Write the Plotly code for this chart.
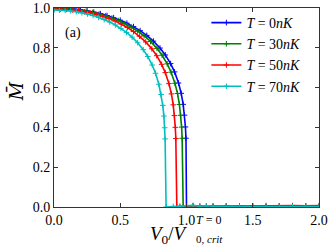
import plotly.graph_objects as go

# ---- data ----
labels = ["0", "30", "50", "70"]
colors = ["#0000ff", "#008000", "#ff0000", "#00bfbf"]

v_T0 = [0, 0.05, 0.1, 0.15, 0.2, 0.25, 0.3, 0.35, 0.4, 0.45, 0.5, 0.55, 0.6, 0.65, 0.7,
        0.75, 0.8, 0.84, 0.88, 0.91, 0.94, 0.96, 0.975, 0.985, 0.992, 0.996,
        1.0, 1.05, 1.1, 1.15, 1.2, 1.3, 1.4, 1.5, 1.6, 1.7, 1.8, 1.9, 2.0]
m_T0 = [1.0, 0.9994, 0.9978, 0.995, 0.9911, 0.9859, 0.9795, 0.9717, 0.9624, 0.9514, 0.9387,
        0.9238, 0.9065, 0.8862, 0.8623, 0.8337, 0.7987, 0.7641, 0.7206, 0.6788, 0.623,
        0.5712, 0.5159, 0.4616, 0.4023, 0.3456,
        0, 0.004, 0.002, 0.005, 0.002, 0.002, 0.003, 0.002, 0.002, 0.002, 0.002, 0.003, 0.002]

v_T30 = [0, 0.0486, 0.0971, 0.1457, 0.1942, 0.2428, 0.2913, 0.3399, 0.3884, 0.437, 0.4855,
         0.5341, 0.5826, 0.6312, 0.6797, 0.7283, 0.7768, 0.8156, 0.8545, 0.8836, 0.9127,
         0.9322, 0.9467, 0.9564, 0.9632, 0.9671,
         0.975, 1.0, 1.05, 1.1, 1.2, 1.3, 1.4, 1.5, 1.6, 1.7, 1.8, 1.9, 2.0]
m_T30 = [0.998, 0.9974, 0.9958, 0.993, 0.9891, 0.9839, 0.9775, 0.9698, 0.9605, 0.9495, 0.9368,
         0.922, 0.9047, 0.8844, 0.8606, 0.832, 0.7971, 0.7626, 0.7192, 0.6774, 0.6218,
         0.5701, 0.5149, 0.4607, 0.4015, 0.3449,
         0, 0.003, 0.005, 0.003, 0.004, 0.006, 0.004, 0.002, 0.002, 0.003, 0.002, 0.002, 0.002]

v_T50 = [0, 0.0462, 0.0923, 0.1385, 0.1846, 0.2308, 0.2769, 0.3231, 0.3692, 0.4154, 0.4615,
         0.5077, 0.5538, 0.6, 0.6461, 0.6923, 0.7384, 0.7753, 0.8122, 0.8399, 0.8676,
         0.8861, 0.8999, 0.9092, 0.9156, 0.9193,
         0.927, 0.95, 1.0, 1.05, 1.1, 1.15, 1.2, 1.3, 1.4, 1.5, 1.6, 1.7, 1.8, 1.9, 2.0]
m_T50 = [0.995, 0.9944, 0.9928, 0.99, 0.9861, 0.981, 0.9746, 0.9668, 0.9576, 0.9466, 0.934,
         0.9192, 0.902, 0.8818, 0.858, 0.8295, 0.7947, 0.7603, 0.717, 0.6754, 0.6199,
         0.5683, 0.5133, 0.4593, 0.4003, 0.3439,
         0, 0.002, 0.003, 0.006, 0.002, 0.004, 0.003, 0.003, 0.004, 0.006, 0.007, 0.006, 0.007, 0.006, 0.007]

v_T70 = [0, 0.0421, 0.0842, 0.1263, 0.1684, 0.2105, 0.2526, 0.2947, 0.3368, 0.3789, 0.421,
         0.4631, 0.5052, 0.5473, 0.5894, 0.6315, 0.6736, 0.7073, 0.741, 0.7662, 0.7915,
         0.8083, 0.821, 0.8294, 0.8353, 0.8386,
         0.846, 0.9, 0.95, 1.0, 1.05, 1.1, 1.15, 1.2, 1.3, 1.4, 1.5, 1.6, 1.7, 1.8, 1.9, 2.0]
m_T70 = [0.99, 0.9894, 0.9878, 0.9851, 0.9812, 0.976, 0.9697, 0.962, 0.9528, 0.9419, 0.9293,
         0.9146, 0.8974, 0.8773, 0.8537, 0.8254, 0.7907, 0.7565, 0.7134, 0.672, 0.6168,
         0.5655, 0.5107, 0.457, 0.3983, 0.3421,
         0, 0.003, 0.004, 0.006, 0.008, 0.004, 0.006, 0.004, 0.003, 0.002, 0.002, 0.002, 0.002, 0.002, 0.002, 0.002]

series_v = [v_T0, v_T30, v_T50, v_T70]
series_m = [m_T0, m_T30, m_T50, m_T70]

x_ticks = [0.0, 0.5, 1.0, 1.5, 2.0]
y_ticks = [0.0, 0.2, 0.4, 0.6, 0.8, 1.0]

SERIF = "Liberation Serif, DejaVu Serif, serif"

fig = go.Figure()
for lab, col, xs, ys in zip(labels, colors, series_v, series_m):
    fig.add_trace(go.Scatter(
        x=xs, y=ys, mode="lines+markers",
        name=f"<i>T</i> = {lab}<i>nK</i>",
        line=dict(color=col, width=1.6),
        marker=dict(symbol="cross-thin", size=4, line=dict(color=col, width=1)),
    ))

axis_common = dict(
    showline=True, linecolor="#333333", linewidth=1, mirror="ticks",
    ticks="inside", ticklen=4, tickcolor="#333333", showgrid=False, zeroline=False,
    tickfont=dict(family=SERIF, size=14, color="black"),
)
fig.update_xaxes(range=[0, 2], tickvals=x_ticks, ticktext=[f"{t:.1f}" for t in x_ticks],
                 ticklabelstandoff=0, **axis_common)
fig.update_yaxes(range=[0, 1], tickvals=y_ticks, ticktext=[f"{t:.1f}" for t in y_ticks],
                 **axis_common)

# y-axis title (M with a bar)
fig.add_annotation(x=-0.145, y=0.58, xref="paper", yref="paper",
                   text="<i>M\u0304</i>", textangle=-90, showarrow=False,
                   xanchor="center", yanchor="middle",
                   font=dict(family="DejaVu Serif, serif", size=18, color="black"))

fig.add_annotation(x=0.035, y=0.874, xref="paper", yref="paper", text="(a)",
                   showarrow=False, xanchor="left", yanchor="middle",
                   font=dict(family=SERIF, size=14, color="black"))
# x-axis title built from pieces
fig.add_annotation(x=0.356, y=-0.14, xref="paper", yref="paper",
                   text="<i>V</i><sub>0</sub>/<i>V</i>", showarrow=False,
                   xanchor="left", yanchor="middle",
                   font=dict(family=SERIF, size=19, color="black"))
fig.add_annotation(x=0.53, y=-0.067, xref="paper", yref="paper",
                   text="<i>T</i> = 0", showarrow=False, xanchor="left", yanchor="middle",
                   font=dict(family=SERIF, size=12, color="black"))
fig.add_annotation(x=0.527, y=-0.16, xref="paper", yref="paper",
                   text="0, <i>crit</i>", showarrow=False, xanchor="left", yanchor="middle",
                   font=dict(family=SERIF, size=11, color="black"))

fig.update_layout(
    width=332, height=249,
    margin=dict(l=54, r=13, t=8, b=42, autoexpand=False),
    paper_bgcolor="white", plot_bgcolor="white",
    showlegend=True,
    legend=dict(x=0.575, y=1.005, xanchor="left", yanchor="top",
                bgcolor="rgba(0,0,0,0)", itemwidth=30,
                font=dict(family=SERIF, size=14, color="black"),
                tracegroupgap=0),
)

fig.write_html("out.html", config={"displayModeBar": False},
               post_script="document.body.style.margin='0';")
